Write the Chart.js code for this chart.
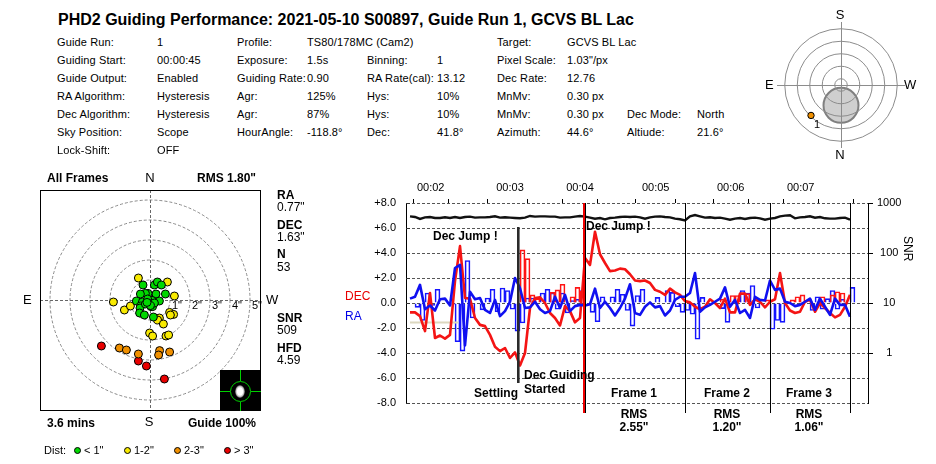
<!DOCTYPE html>
<html><head><meta charset="utf-8">
<script src="https://cdn.jsdelivr.net/npm/chart.js@4/dist/chart.umd.min.js"></script>
<style>
html,body{margin:0;padding:0;background:#fff;width:936px;height:464px;overflow:hidden}
body{position:relative;font-family:"Liberation Sans",Arial,sans-serif;color:#000}
canvas{position:absolute}
.t{position:absolute;white-space:pre;line-height:16px;height:16px;font-size:11px}
.b{position:absolute}
</style></head><body>
<script>
// ---------- guiding graph data ----------
const raLine=[0.35,0.5,1.45,-0.5,-0.2,-0.6,0.3,0.35,-0.2,2.8,3.05,-3.4,0.9,0.3,0.4,-0.55,-0.8,0.25,-1.05,-0.65,0.1,2.0,1.2,-0.4,-0.35,0.1,-0.5,-0.8,-0.65,0.5,-0.4,0.65,-0.65,-0.25,-0.15,-0.2,-0.1,1.15,-0.4,0.1,-0.4,-1.0,-0.4,0.35,1.5,-0.8,-0.95,-0.3,0.05,-0.35,-0.25,-1.0,-0.6,0.25,0.5,0.5,0.8,2.4,-0.7,-0.35,-0.15,0.1,0.35,1.25,-0.3,0.25,-0.8,-0.55,-1.2,0.5,0.25,0.2,1.8,1.05,1.15,0.1,0,-0.25,-0.15,0.1,0.35,-0.55,0.35,-0.3,-0.95,0.35,-0.15,-0.15,-1.1];
const decLine=[-0.75,-0.75,-1.05,-2.25,0.8,-2.8,-2.6,-2.85,-2.55,1.75,4.55,0.4,0.35,-1.2,-1.75,-1.85,-2.55,-3.5,-3.85,-3.6,-4.4,-3.95,-5.0,-4.0,-0.4,0.4,0.45,0,-0.8,-1.2,-1.8,-0.25,-0.65,-1.55,-1.2,3.6,3.05,5.7,3.9,3.2,2.55,2.6,2.75,2.7,2.3,1.8,1.75,1.8,1.6,1.05,0.9,0.65,1.15,0.85,0.65,0.15,0.05,-0.3,-0.5,-0.3,0.3,0,-0.4,0.35,-0.75,-0.75,0.75,0.75,-0.15,0.3,0.1,-0.35,0.1,0.3,2.4,0,-0.6,-0.8,-0.7,0.1,0.25,-0.7,0,-0.4,-0.8,-1.15,-0.95,-0.3,0.65];
const raBars=[null,-0.35,-1.4,0.8,-0.2,1.1,null,null,-0.1,-3.1,-3.85,3.4,-1.2,null,-0.55,0.4,1.1,-0.7,1.2,1.0,-0.5,-2.25,-1.6,0.4,0.4,null,0.8,1.1,0.8,-0.5,0.8,-0.8,0.2,0.3,1.0,null,-0.75,-1.5,0.5,null,0.5,1.1,0.7,-0.6,-1.85,0.6,1.1,null,null,0.45,null,1.0,0.85,-0.3,-0.75,-0.6,-0.9,-2.9,0.45,null,null,null,-0.45,-1.55,null,null,1.0,0.8,1.4,-0.4,null,null,-2.1,-1.4,-1.55,null,null,null,null,null,-0.6,0.5,-0.5,0.35,1.0,-0.5,0.3,null,1.25];
const decBars=[null,null,null,null,null,null,null,null,null,null,null,null,null,null,null,null,null,null,null,null,null,null,4.25,3.55,0.65,0.35,null,null,0.85,1.05,1.5,null,0.5,1.25,0.95,null,null,null,null,null,null,null,null,null,null,null,null,null,null,null,null,null,null,null,null,null,null,null,null,null,null,null,0.3,null,0.6,0.6,null,0.75,null,null,null,0.25,null,null,null,null,0.25,0.5,0.65,null,null,null,0.5,null,0.65,0.9,0.8,null,null];
const snrLine=[541,525,479,517,525,501,501,517,501,525,501,525,533,509,517,517,525,541,509,517,509,501,494,509,550,533,541,541,533,533,509,517,517,533,550,533,509,486,501,472,501,509,525,533,525,533,517,486,517,533,541,525,517,486,472,450,541,575,541,509,517,501,509,486,464,486,501,479,501,509,494,464,486,501,541,558,567,494,517,525,541,509,525,494,486,486,501,509,464];
const settleX=[0,9.7], settleY=[-1.55,-1.55];
const xTicks=[4.14,11.14,20,27.14,34,41.14,49.14,57.14,64.14,71.14,78.14,85.14];
const xTickLabels=['00:02','','00:03','','00:04','','00:05','','00:06','','00:07',''];
const yTicks=[8,6,4,2,0,-2,-4,-6,-8];
const yTickLabels=['+8.0','+6.0','+4.0','+2.0','0.0','-2.0','-4.0','-6.0','-8.0'];
const snrTicks=[1000,100,10,1];
const decStartX=[21.66,21.66], decStartY=[6.08,-6.4];
const redMarkX=[34.8,34.8], redMarkY=[8,-8.8];
const frameMarks=[35.1,55.1,72.1,88.1], frameMarkY=[8,-8.8];
// ---------- bullseye data ----------
const greenX=[-0.35,0.22,0.37,0.57,0.77,0.3,-0.1,-0.23,-0.48,-0.68,-0.38,-0.48,-0.5,-0.23,0.1,0.47,0.05,0.13,-0.52,-0.28,0.17,-0.12,-0.02,0.22,0.02,-0.15];
const greenY=[0.75,0.75,0.9,0.75,0.3,0.3,0.33,0.33,0.3,-0.05,-0.1,-0.3,-0.4,-0.2,-0.02,-0.05,-0.33,-0.33,-0.65,-0.75,-0.85,0.05,-0.18,-0.15,-0.28,-0.12];
const yellowX=[-0.58,0.87,1.22,-1.83,-1.28,-0.98,0.98,1.18,1.02,0.47,0.38,0.67,-0.02,0.13,0.8,0.93];
const yellowY=[1.1,0.9,0.2,-0.1,-0.5,-0.3,-0.62,-0.72,-0.75,-0.9,-1.0,-1.2,-1.65,-1.8,-1.8,-1.75];
const orangeX=[-1.53,-1.18,-0.58,0.48,0.43,0.98];
const orangeY=[-2.4,-2.5,-2.7,-2.53,-2.75,-2.6];
const redX=[-2.43,-0.58,-0.18,0.72,-1.18];
const redY=[-2.3,-3.05,-3.3,-3.95,-5.83];
const ringRadii=[1,2,3,4,5];
const ringLabels=['1"','2"','3"','4"','5"'];
// ---------- sky chart data ----------
const skyRings=[10,30,50,70,90];
const skyStarX=[-48], skyStarY=[-48.7];
const moonX=0, moonY=-32.5, moonR=28;
// ---------- header table ----------
const colX=[57,157,237,307,367,437,497,567,627,697];
const rowY=[42,60,78,96,114,132,150];
const rows=[
 ['Guide Run:','1','Profile:','TS80/178MC (Cam2)','','','Target:','GCVS BL Lac','',''],
 ['Guiding Start:','00:00:45','Exposure:','1.5s','Binning:','1','Pixel Scale:','1.03"/px','',''],
 ['Guide Output:','Enabled','Guiding Rate:','0.90','RA Rate(cal):','13.12','Dec Rate:','12.76','',''],
 ['RA Algorithm:','Hysteresis','Agr:','125%','Hys:','10%','MnMv:','0.30 px','',''],
 ['Dec Algorithm:','Hysteresis','Agr:','87%','Hys:','10%','MnMv:','0.30 px','Dec Mode:','North'],
 ['Sky Position:','Scope','HourAngle:','-118.8°','Dec:','41.8°','Azimuth:','44.6°','Altiude:','21.6°'],
 ['Lock-Shift:','OFF','','','','','','','','']
];

// ---------- helpers ----------
Chart.defaults.font.family='"Liberation Sans",Arial,sans-serif';
Chart.defaults.animation=false;
Chart.defaults.devicePixelRatio=1;
function mk(l,t,w,h){const c=document.createElement('canvas');c.width=w;c.height=h;c.style.cssText=`left:${l}px;top:${t}px;width:${w}px;height:${h}px`;document.body.appendChild(c);return c;}
function T(x,y,s,o={}){const d=document.createElement('div');d.className='t';d.textContent=s;
 d.style.left=x+'px';d.style.top=(y-8)+'px';
 if(o.size)d.style.fontSize=o.size+'px';if(o.bold)d.style.fontWeight='bold';if(o.color)d.style.color=o.color;
 if(o.ls)d.style.letterSpacing=o.ls+'px';
 if(o.c)d.style.transform='translateX(-50%)';
 document.body.appendChild(d);return d;}
function box(l,t,w,h,css){const d=document.createElement('div');d.className='b';d.style.cssText=`left:${l}px;top:${t}px;width:${w}px;height:${h}px;${css}`;document.body.appendChild(d);return d;}
const pts=(xs,ys)=>xs.map((x,i)=>({x,y:ys[i]}));

// ---------- guiding graph ----------
const idx=a=>a.map((y,i)=>({x:i,y}));
const bar=a=>a.map((y,i)=>({x:i+0.5,y}));
const lineOpts={type:'line',xAxisID:'x',yAxisID:'y',pointRadius:0,tension:0,fill:false,parsing:true};
const frameSets=frameMarks.map(x=>({...lineOpts,data:pts([x,x],frameMarkY),borderColor:'#000',borderWidth:1,clip:false,order:1}));
new Chart(mk(340,175,596,249),{
 data:{datasets:[
  {type:'bar',xAxisID:'x',yAxisID:'y',data:bar(raBars),backgroundColor:'rgba(0,0,0,0)',borderColor:'#1414ff',borderWidth:1,barThickness:5,grouped:false,order:9},
  {type:'bar',xAxisID:'x',yAxisID:'y',data:bar(decBars),backgroundColor:'rgba(0,0,0,0)',borderColor:'#ff1414',borderWidth:1,barThickness:5,grouped:false,order:8},
  {...lineOpts,data:pts(settleX,settleY),borderColor:'#dcd8c0',borderWidth:2,order:7},
  {...lineOpts,yAxisID:'s',data:idx(snrLine),borderColor:'#111',borderWidth:2.4,order:6},
  {...lineOpts,data:idx(decLine),borderColor:'#f41414',borderWidth:2.6,borderJoinStyle:'round',order:5},
  {...lineOpts,data:idx(raLine),borderColor:'#1010f0',borderWidth:2.6,borderJoinStyle:'round',order:4},
  {...lineOpts,data:pts(decStartX,decStartY),borderColor:'#2a2a2a',borderWidth:2.6,clip:false,order:3},
  ...frameSets,
  {...lineOpts,data:pts(redMarkX,redMarkY),borderColor:'#f00000',borderWidth:2,clip:false,order:0}
 ]},
 options:{responsive:false,maintainAspectRatio:false,
  layout:{padding:{bottom:21,left:0,right:0,top:0}},
  plugins:{legend:{display:false},tooltip:{enabled:false}},
  scales:{
   x:{type:'linear',position:'top',min:-0.8,max:91.6,offset:false,
      afterBuildTicks:s=>{s.ticks=xTicks.map(v=>({value:v}));},
      afterFit:s=>{s.height=28;},
      grid:{drawOnChartArea:false,drawTicks:true,tickLength:4,color:'#000'},
      border:{display:false},
      ticks:{autoSkip:false,maxRotation:0,minRotation:0,padding:4,color:'#000',font:{size:11},
        callback:(v,i)=>xTickLabels[i]}},
   y:{type:'linear',position:'left',min:-8,max:8,
      afterBuildTicks:s=>{s.ticks=yTicks.map(v=>({value:v}));},
      afterFit:s=>{s.width=66;},
      grid:{drawOnChartArea:true,drawTicks:false,color:'#555',lineWidth:1},
      border:{display:true,color:'#000',width:1,dash:[3,2]},
      ticks:{padding:10,color:'#000',font:{size:11},callback:(v,i)=>yTickLabels[i]}},
   s:{type:'logarithmic',position:'right',min:0.1,max:1000,
      afterBuildTicks:s=>{s.ticks=snrTicks.map(v=>({value:v}));},
      afterFit:s=>{s.width=68;},
      grid:{drawOnChartArea:false,drawTicks:true,tickLength:5,color:'#000'},
      border:{display:true,color:'#000',width:1},
      ticks:{crossAlign:'center',padding:4,color:'#000',font:{size:11},callback:v=>String(v)}}
  }},
 plugins:[{id:'innerTicks',afterDatasetsDraw(c){const {ctx,chartArea:a}=c,y=c.scales.y;ctx.save();ctx.strokeStyle='#333';ctx.lineWidth=1;
   yTicks.forEach(v=>{const p=Math.round(y.getPixelForValue(v))+0.5;ctx.beginPath();ctx.moveTo(a.left,p);ctx.lineTo(a.left+4,p);ctx.stroke();});ctx.restore();}}]
});

// guiding graph labels
T(433,236,'Dec Jump !',{bold:1,size:12});
T(586,226,'Dec Jump !',{bold:1,size:12});
T(524,375,'Dec Guiding',{bold:1,size:12});
T(524,389,'Started',{bold:1,size:12});
T(474,393,'Settling',{bold:1,size:12});
T(634,393,'Frame 1',{bold:1,size:12,c:1});
T(727,393,'Frame 2',{bold:1,size:12,c:1});
T(809,393,'Frame 3',{bold:1,size:12,c:1});
T(634,414,'RMS',{bold:1,size:12,c:1});
T(727,414,'RMS',{bold:1,size:12,c:1});
T(809,414,'RMS',{bold:1,size:12,c:1});
T(634,427,'2.55"',{bold:1,size:12,c:1});
T(727,427,'1.20"',{bold:1,size:12,c:1});
T(809,427,'1.06"',{bold:1,size:12,c:1});
T(345,296,'DEC',{size:12,color:'#e80000'});
T(345,316,'RA',{size:12,color:'#0000e8'});
const snr=T(900,244,'SNR',{size:12});snr.style.writingMode='vertical-rl';snr.style.height='auto';

// ---------- bullseye ----------
const dot=(xs,ys,col,order)=>({type:'scatter',data:pts(xs,ys),pointRadius:4,pointBorderWidth:1,pointBorderColor:'#000',pointBackgroundColor:col,clip:false,order});
new Chart(mk(30,180,240,250),{
 type:'scatter',
 data:{datasets:[dot(yellowX,yellowY,'#f8ea00',3),dot(greenX,greenY,'#00d800',2),dot(orangeX,orangeY,'#f09000',4),dot(redX,redY,'#e80000',5)]},
 options:{responsive:false,maintainAspectRatio:false,
  layout:{padding:{left:10,right:10,top:10,bottom:20}},
  plugins:{legend:{display:false},tooltip:{enabled:false}},
  scales:{x:{type:'linear',min:-5.5,max:5.5,display:false},y:{type:'linear',min:-5.5,max:5.5,display:false}}},
 plugins:[{id:'rings',beforeDatasetsDraw(c){const {ctx,chartArea:a,scales:{x,y}}=c;ctx.save();
   const cx=x.getPixelForValue(0),cy=y.getPixelForValue(0);
   ctx.strokeStyle='#8a8a8a';ctx.lineWidth=1;ctx.setLineDash([3,2]);
   ringRadii.forEach(r=>{ctx.beginPath();ctx.arc(cx,cy,x.getPixelForValue(r)-cx,0,Math.PI*2);ctx.stroke();});
   ctx.strokeStyle='#666';
   ctx.beginPath();ctx.moveTo(a.left,Math.round(cy)+.5);ctx.lineTo(a.right,Math.round(cy)+.5);ctx.moveTo(Math.round(cx)+.5,a.top);ctx.lineTo(Math.round(cx)+.5,a.bottom);ctx.stroke();
   ctx.setLineDash([]);ctx.strokeStyle='#000';ctx.lineWidth=1;ctx.strokeRect(a.left+.5,a.top+.5,a.right-a.left,a.bottom-a.top);
   ctx.fillStyle='#000';ctx.font='11px "Liberation Sans",Arial,sans-serif';ctx.textAlign='center';ctx.textBaseline='middle';
   ringRadii.forEach((r,i)=>ctx.fillText(ringLabels[i],x.getPixelForValue(r)+7,cy+6));
   ctx.restore();}}]
});
box(120,411.5,4.8,10,'background:#fff');
// thumbnail of the guide star
box(220,370,41,41,'background:#000;overflow:hidden');
box(220,391,10,1.4,'background:#00d000');box(251,391,10,1.4,'background:#00d000');
box(240,370,1.4,11,'background:#00d000');box(240,402,1.4,9,'background:#00d000');
box(230,381,19,19,'border:1.5px solid #00d000;border-radius:50%');
box(235,385,10,13,'border-radius:50%;background:radial-gradient(closest-side,#fff 55%,#bbb 80%,#333 100%)');

T(47,178,'All Frames',{bold:1,size:12});
T(150,178,'N',{size:13,c:1});
T(197,178,'RMS 1.80"',{bold:1,size:12});
T(23,300,'E',{size:13});
T(266,300,'W',{size:13});
T(149,422,'S',{size:13,c:1});
T(47,423,'3.6 mins',{bold:1,size:12});
T(188,423,'Guide 100%',{bold:1,size:12});
[['RA',195,1],['0.77"',207,0],['DEC',225,1],['1.63"',237,0],['N',254,1],['53',267,0],['SNR',318,1],['509',330,0],['HFD',348,1],['4.59',360,0]]
 .forEach(([s,y,b])=>T(277,y,s,{size:12,bold:b}));
// legend
T(44,450,'Dist:');
const legendItems=[[77,'#00d800','< 1"'],[127,'#f8ea00','1-2"'],[177,'#f09000','2-3"'],[227,'#e80000','> 3"']];
legendItems.forEach(([x,c,s])=>{box(x-3.5,446.5,5.5,5.5,`background:${c};border:1px solid #000;border-radius:50%`);T(x+7,450,s);});

// ---------- sky chart ----------
new Chart(mk(761,5,160,160),{
 type:'scatter',
 data:{datasets:[{data:pts(skyStarX,skyStarY),pointRadius:3.2,pointBorderWidth:1,pointBorderColor:'#000',pointBackgroundColor:'#f09000'}]},
 options:{responsive:false,maintainAspectRatio:false,
  layout:{padding:0},
  plugins:{legend:{display:false},tooltip:{enabled:false}},
  scales:{x:{type:'linear',min:-120,max:120,display:false},y:{type:'linear',min:-120,max:120,display:false}}},
 plugins:[{id:'sky',beforeDatasetsDraw(c){const {ctx,scales:{x,y}}=c;ctx.save();
   const cx=x.getPixelForValue(0),cy=y.getPixelForValue(0),k=v=>x.getPixelForValue(v)-cx;
   ctx.beginPath();ctx.arc(x.getPixelForValue(moonX),y.getPixelForValue(moonY),k(moonR),0,Math.PI*2);
   ctx.fillStyle='#cfcfcf';ctx.fill();ctx.lineWidth=2;ctx.strokeStyle='#808080';ctx.stroke();
   ctx.strokeStyle='#8c8c8c';ctx.lineWidth=1;
   skyRings.forEach(r=>{ctx.beginPath();ctx.arc(cx,cy,k(r),0,Math.PI*2);ctx.stroke();});
   ctx.beginPath();ctx.moveTo(cx-64,cy+.5);ctx.lineTo(cx+64,cy+.5);ctx.moveTo(cx+.5,cy-63);ctx.lineTo(cx+.5,cy+63);ctx.stroke();
   ctx.restore();}}]
});
T(840,15,'S',{size:13,c:1});
T(840,155,'N',{size:13,c:1});
T(765,85,'E',{size:13});
T(904,85,'W',{size:13});
T(814,124,'1',{size:11});

// ---------- header ----------
T(58,20,'PHD2 Guiding Performance: 2021-05-10 S00897, Guide Run 1, GCVS BL Lac',{bold:1,size:16});
rows.forEach((r,ri)=>r.forEach((s,ci)=>{if(s)T(colX[ci],rowY[ri],s,{ls:0.12});}));
</script>
</body></html>
